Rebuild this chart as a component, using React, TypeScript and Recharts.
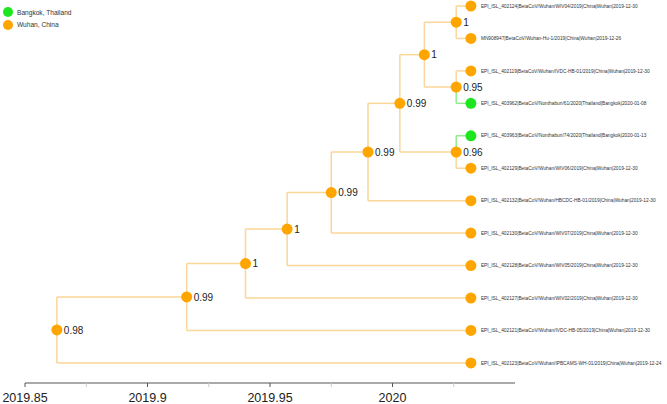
import React from 'react';
import { ScatterChart, Scatter, XAxis, YAxis, ReferenceLine } from 'recharts';

// tips, top to bottom
const tipNames = [
  'EPI_ISL_402124|BetaCoV/Wuhan/WIV04/2019|China|Wuhan|2019-12-30',
  'MN908947|BetaCoV/Wuhan-Hu-1/2019|China|Wuhan|2019-12-26',
  'EPI_ISL_402119|BetaCoV/Wuhan/IVDC-HB-01/2019|China|Wuhan|2019-12-30',
  'EPI_ISL_403962|BetaCoV/Nonthaburi/61/2020|Thailand|Bangkok|2020-01-08',
  'EPI_ISL_403963|BetaCoV/Nonthaburi/74/2020|Thailand|Bangkok|2020-01-13',
  'EPI_ISL_402129|BetaCoV/Wuhan/WIV06/2019|China|Wuhan|2019-12-30',
  'EPI_ISL_402132|BetaCoV/Wuhan/HBCDC-HB-01/2019|China|Wuhan|2019-12-30',
  'EPI_ISL_402130|BetaCoV/Wuhan/WIV07/2019|China|Wuhan|2019-12-30',
  'EPI_ISL_402128|BetaCoV/Wuhan/WIV05/2019|China|Wuhan|2019-12-30',
  'EPI_ISL_402127|BetaCoV/Wuhan/WIV02/2019|China|Wuhan|2019-12-30',
  'EPI_ISL_402121|BetaCoV/Wuhan/IVDC-HB-05/2019|China|Wuhan|2019-12-30',
  'EPI_ISL_402123|BetaCoV/Wuhan/IPBCAMS-WH-01/2019|China|Wuhan|2019-12-24',
];
const tipLocations = [
  'Wuhan, China', 'Wuhan, China', 'Wuhan, China', 'Bangkok, Thailand',
  'Bangkok, Thailand', 'Wuhan, China', 'Wuhan, China', 'Wuhan, China',
  'Wuhan, China', 'Wuhan, China', 'Wuhan, China', 'Wuhan, China',
];
const tipTimes = [
  2020.032, 2020.032, 2020.032, 2020.032, 2020.032, 2020.032,
  2020.032, 2020.032, 2020.032, 2020.032, 2020.032, 2020.032,
];

// internal nodes, n0 is the root
const nodeTimes = [2019.863, 2019.916, 2019.940, 2019.957, 2019.975, 2019.990, 2020.003, 2020.013, 2020.026, 2020.026, 2020.026];
const nodeSupport = ['0.98', '0.99', '1', '1', '0.99', '0.99', '0.99', '1', '1', '0.95', '0.96'];
const nodeChildren = [
  ['n1', 't11'], ['n2', 't10'], ['n3', 't9'], ['n4', 't8'], ['n5', 't7'], ['n6', 't6'],
  ['n7', 'n10'], ['n8', 'n9'], ['t0', 't1'], ['t2', 't3'], ['t4', 't5'],
];

const locations = ['Bangkok, Thailand', 'Wuhan, China'];
const locationColors: Record<string, string> = {
  'Bangkok, Thailand': '#1ee61e',
  'Wuhan, China': '#ffa500',
};
const branchColors: Record<string, string> = {
  'Bangkok, Thailand': '#8fec8f',
  'Wuhan, China': '#fbd699',
};

const majorTicks = [2019.85, 2019.9, 2019.95, 2020];
const minorTicks = [2019.875, 2019.925, 2019.975, 2020.025];

const FONT = '"Liberation Sans", Arial, Helvetica, sans-serif';

const timeOf = (ref: string) =>
  ref[0] === 't' ? tipTimes[+ref.slice(1)] : nodeTimes[+ref.slice(1)];

const rowOf = (ref: string): number => {
  const i = +ref.slice(1);
  if (ref[0] === 't') return i;
  const kids = nodeChildren[i];
  return (rowOf(kids[0]) + rowOf(kids[kids.length - 1])) / 2;
};

const tipData = tipNames.map((name, i) => ({
  x: tipTimes[i], y: i, name, location: tipLocations[i],
}));
const nodeData = nodeTimes.map((t, i) => ({
  x: t, y: rowOf('n' + i), support: nodeSupport[i],
}));

const segments: { a: any; b: any; color: string }[] = [];
nodeChildren.forEach((kids, i) => {
  const px = nodeTimes[i];
  const py = rowOf('n' + i);
  kids.forEach((c) => {
    const cy = rowOf(c);
    const cx = timeOf(c);
    const loc = c[0] === 't' ? tipLocations[+c.slice(1)] : 'Wuhan, China';
    const color = branchColors[loc];
    segments.push({ a: { x: px, y: py }, b: { x: px, y: cy }, color });
    segments.push({ a: { x: px, y: cy }, b: { x: cx, y: cy }, color });
  });
});

const TipShape = (props: any) => {
  const { cx, cy, payload } = props;
  return (
    <g>
      <circle cx={cx} cy={cy} r={5.5} fill={locationColors[payload.location]} />
      <text x={cx + 10} y={cy} dy={1.7} fontSize={4.8} fill="#333" fontFamily={FONT}>
        {payload.name}
      </text>
    </g>
  );
};

const NodeShape = (props: any) => {
  const { cx, cy, payload } = props;
  return (
    <g>
      <circle cx={cx} cy={cy} r={5.5} fill="#ffa500" />
      <text x={cx + 7} y={cy} dy={3.6} fontSize={10} fill="#222" fontFamily={FONT}>
        {payload.support}
      </text>
    </g>
  );
};

const AxisTick = (props: any) => {
  const { x, y, payload } = props;
  const major = majorTicks.includes(payload.value);
  return (
    <g>
      <line x1={x} x2={x} y1={y} y2={y + 4} stroke={major ? '#555' : '#ccc'} />
      {major && (
        <text x={x} y={y + 19} textAnchor="middle" fontSize={12.5} fill="#222" fontFamily={FONT}>
          {String(payload.value)}
        </text>
      )}
    </g>
  );
};

export default function App() {
  return (
    <div style={{ position: 'absolute', left: 0, top: 0, width: 667, height: 404 }}>
      <ScatterChart
        width={667}
        height={404}
        margin={{ top: 6, right: 152, bottom: 0, left: 25 }}
        style={{ overflow: 'visible' }}
      >
        <XAxis
          type="number"
          dataKey="x"
          domain={[2019.85, 2020.05]}
          ticks={[...majorTicks, ...minorTicks].sort((a, b) => a - b)}
          interval={0}
          tick={<AxisTick />}
          tickLine={false}
          tickSize={0}
          tickMargin={0}
          height={21}
          stroke="#555"
        />
        <YAxis type="number" dataKey="y" domain={[0, 11.62]} reversed hide />
        {segments.map((s, i) => (
          <ReferenceLine
            key={i}
            segment={[s.a, s.b]}
            stroke={s.color}
            strokeWidth={1.5}
            ifOverflow="visible"
          />
        ))}
        <Scatter data={nodeData} shape={<NodeShape />} isAnimationActive={false} />
        <Scatter data={tipData} shape={<TipShape />} isAnimationActive={false} />
      </ScatterChart>
      <div style={{ position: 'absolute', left: 3, top: 6, fontFamily: FONT, fontSize: 6.6, color: '#333' }}>
        {locations.map((loc) => (
          <div key={loc} style={{ display: 'flex', alignItems: 'center', height: 12.6 }}>
            <svg width={10} height={10} style={{ marginRight: 4 }}>
              <circle cx={5} cy={5} r={5} fill={locationColors[loc]} />
            </svg>
            <span>{loc}</span>
          </div>
        ))}
      </div>
    </div>
  );
}
